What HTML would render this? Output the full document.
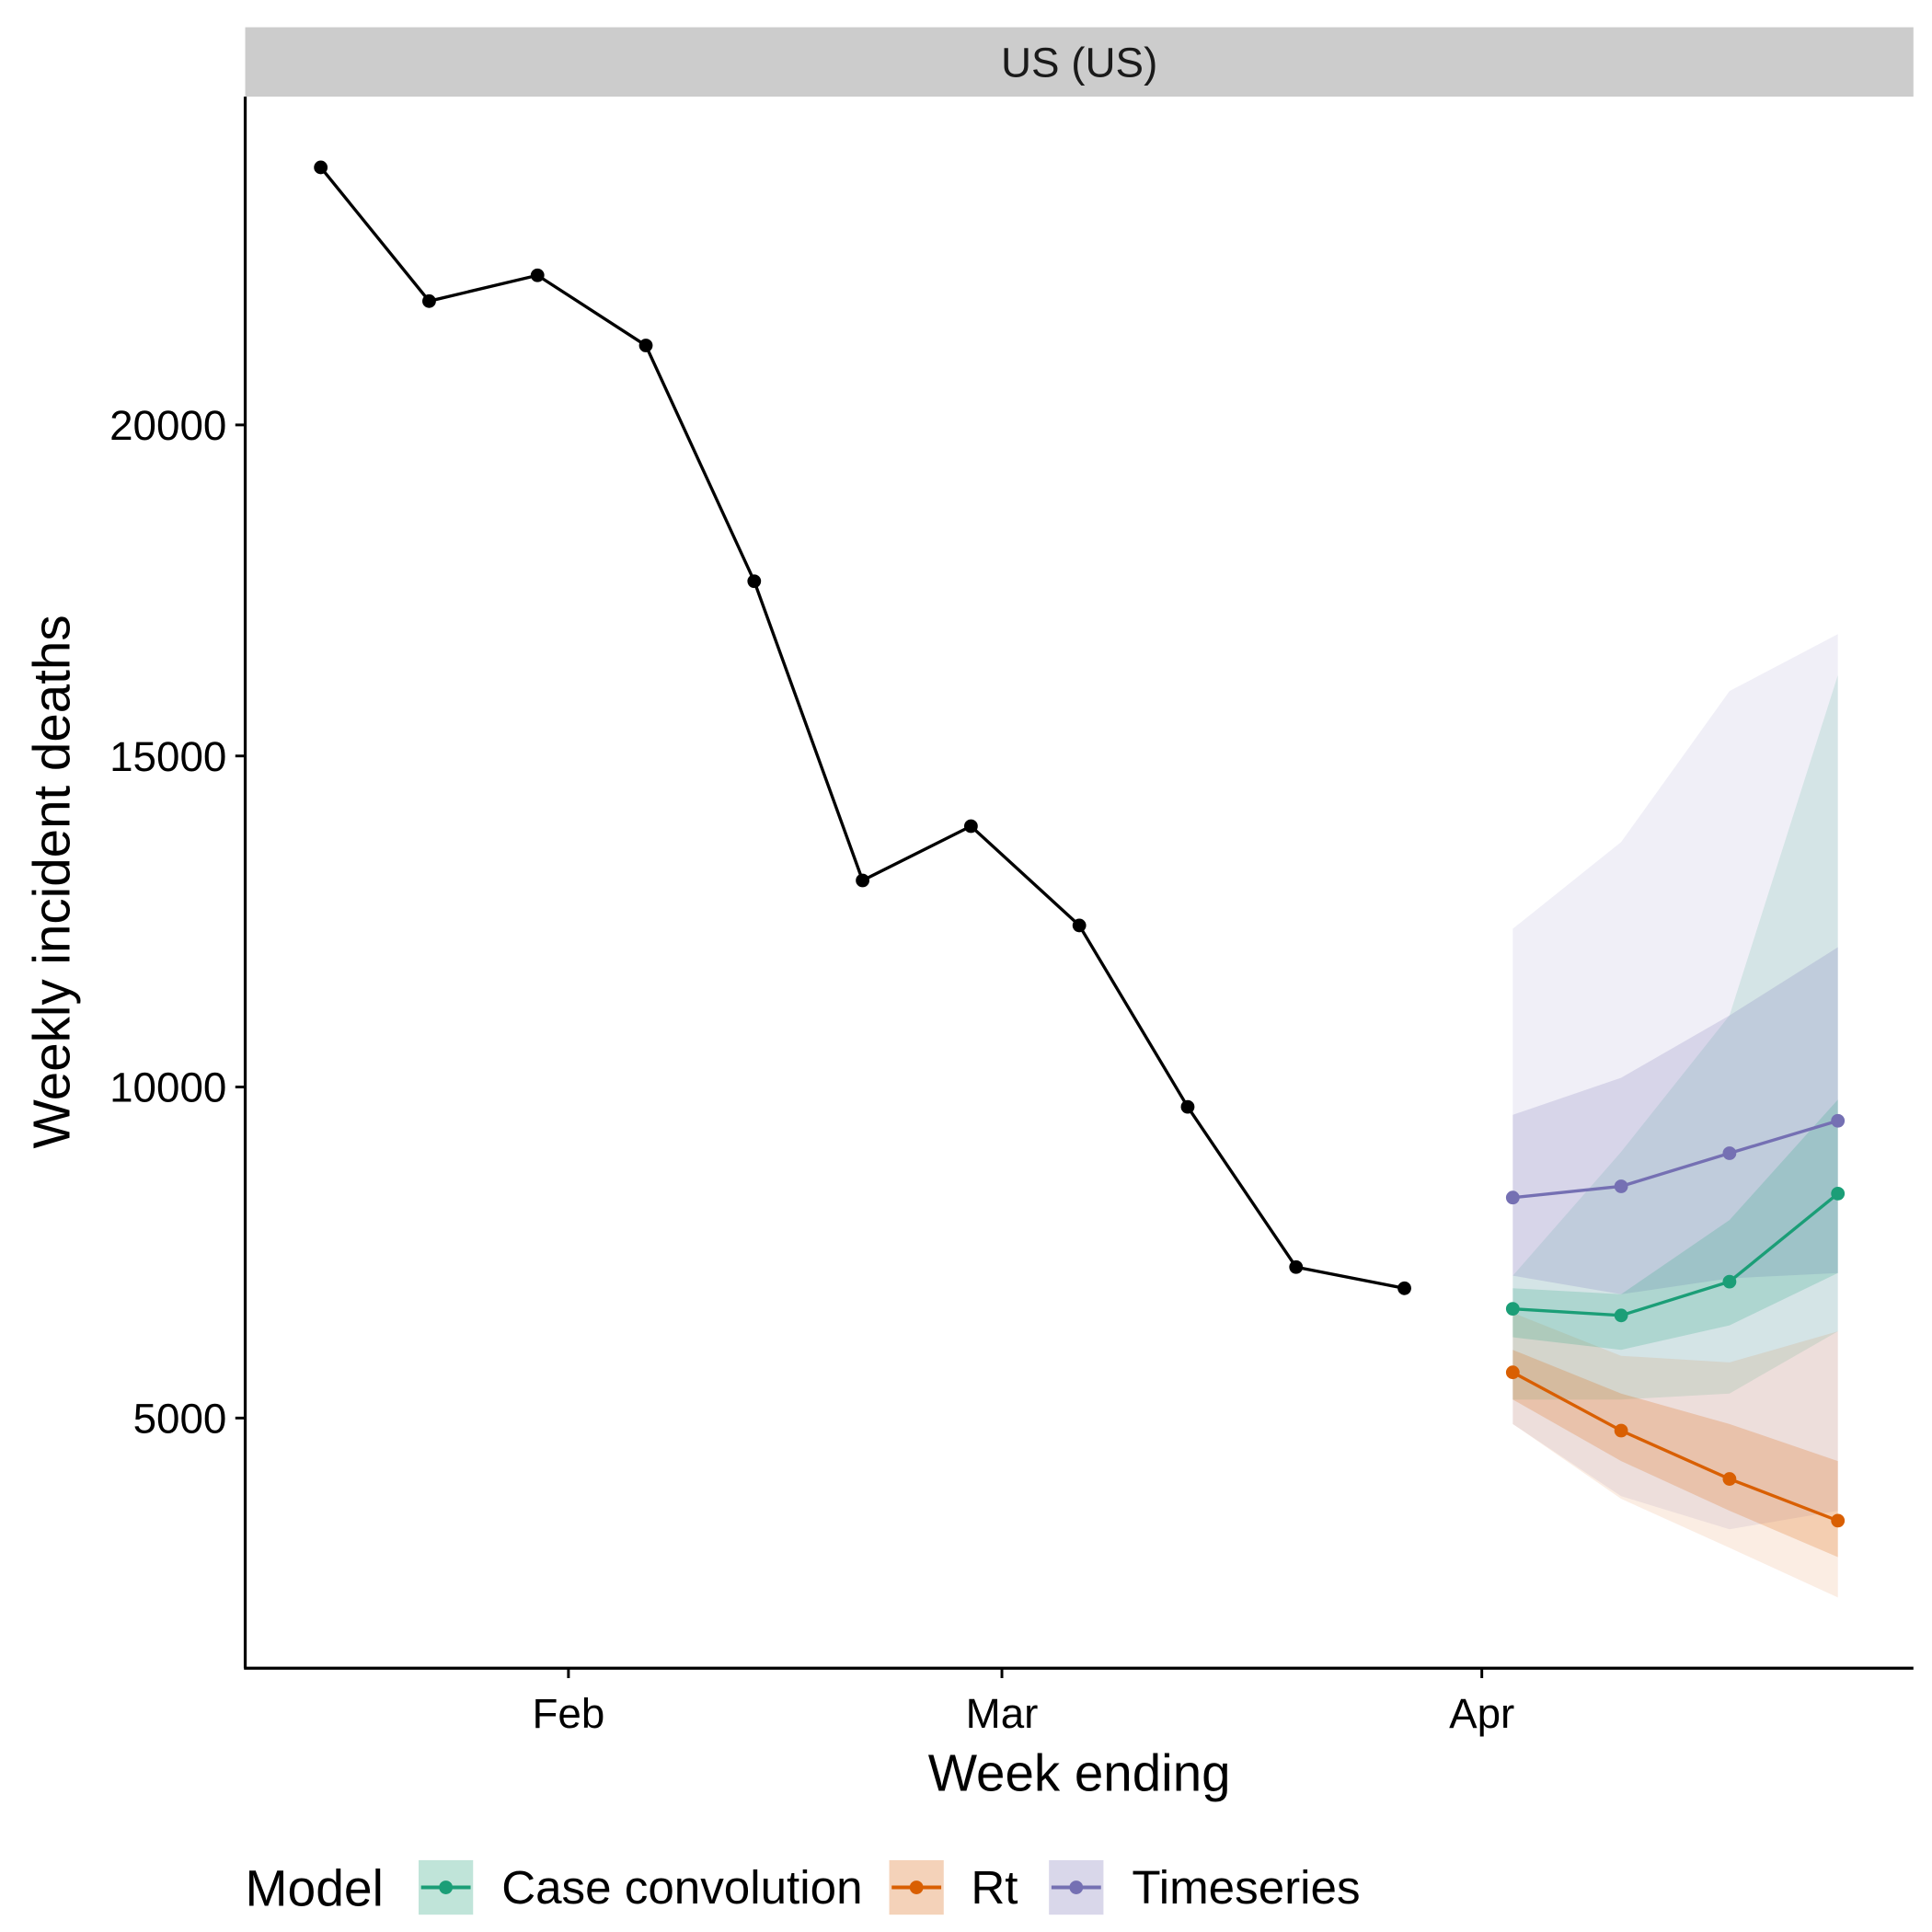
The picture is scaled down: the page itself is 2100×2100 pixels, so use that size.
<!DOCTYPE html>
<html><head><meta charset="utf-8">
<style>
html,body{margin:0;padding:0;background:#fff;}
svg{display:block;font-family:"Liberation Sans",Arial,sans-serif;}
</style></head>
<body>
<svg id="chart" width="2100" height="2100" viewBox="0 0 1560 1560" xmlns="http://www.w3.org/2000/svg">
<rect x="0" y="0" width="1560" height="1560" fill="#fff"/>
<rect x="198" y="22" width="1347" height="56" fill="#cccccc"/>
<text x="871.5" y="62" font-size="34" text-anchor="middle" fill="#1a1a1a">US (US)</text>
<g id="ribbons"></g>
<g id="lines"></g>
<line x1="198" y1="78" x2="198" y2="1347" stroke="#000" stroke-width="2.4"/>
<line x1="197" y1="1347" x2="1545" y2="1347" stroke="#000" stroke-width="2.4"/>
<g id="yticks"></g>
<g id="xticks"></g>
<text x="871.5" y="1446" font-size="42" text-anchor="middle">Week ending</text>
<text transform="translate(56,712) rotate(-90)" font-size="42" text-anchor="middle">Weekly incident deaths</text>
<g>
<text x="198" y="1539" font-size="41">Model</text>
<g>
<rect x="338" y="1502" width="44" height="44" fill="#1B9E77" fill-opacity="0.28"/>
<line x1="340" y1="1524" x2="380" y2="1524" stroke="#1B9E77" stroke-width="3"/>
<circle cx="360" cy="1524" r="5.5" fill="#1B9E77"/>
<text x="405" y="1537" font-size="38">Case convolution</text>
</g>
<g>
<rect x="718" y="1502" width="44" height="44" fill="#D95F02" fill-opacity="0.28"/>
<line x1="720" y1="1524" x2="760" y2="1524" stroke="#D95F02" stroke-width="3"/>
<circle cx="740" cy="1524" r="5.5" fill="#D95F02"/>
<text x="784" y="1537" font-size="38">Rt</text>
</g>
<g>
<rect x="847" y="1502" width="44" height="44" fill="#7570B3" fill-opacity="0.28"/>
<line x1="849" y1="1524" x2="889" y2="1524" stroke="#7570B3" stroke-width="3"/>
<circle cx="869" cy="1524" r="5.5" fill="#7570B3"/>
<text x="914" y="1537" font-size="38">Timeseries</text>
</g>
</g>
</svg>
<script>
// day offsets from Feb 1
const obsDays = [-16,-9,-2,5,12,19,26,33,40,47,54];
const obsValues = [23890,21870,22260,21200,17640,13120,13940,12440,9700,7280,6960];
const fcDays = [61,68,75,82];
const caseMedian = [6650,6550,7060,8390];
const caseInnerLo = [6220,6030,6400,7190];
const caseInnerHi = [6960,6870,7990,9810];
const caseOuterLo = [5280,5280,5370,6310];
const caseOuterHi = [7150,9020,11080,16220];
const rtMedian = [5690,4810,4080,3450];
const rtInnerLo = [5280,4350,3600,2900];
const rtInnerHi = [6030,5370,4910,4350];
const rtOuterLo = [4910,3780,3040,2290];
const rtOuterHi = [6590,5940,5840,6310];
const tsMedian = [8330,8500,9000,9490];
const tsInnerLo = [7150,6870,7110,7190];
const tsInnerHi = [9580,10140,11080,12110];
const tsOuterLo = [4910,3820,3320,3600];
const tsOuterHi = [12390,13700,15980,16840];
const yTicks = [5000,10000,15000,20000];
const xTickDays = [0,28,59];
const xTickLabels = ["Feb","Mar","Apr"];

const NS = "http://www.w3.org/2000/svg";
function xs(d){ return 459 + d*12.5; }
function ys(v){ return 1145 - (v-5000)*0.053459; }
function mk(tag, attrs, parent){
  const e = document.createElementNS(NS, tag);
  for (const k in attrs) e.setAttribute(k, attrs[k]);
  parent.appendChild(e);
  return e;
}
const rib = document.getElementById('ribbons');
const lin = document.getElementById('lines');

function band(lo, hi, color, op, name){
  let pts = fcDays.map((d,i)=>xs(d)+','+ys(hi[i]));
  pts = pts.concat(fcDays.map((d,i)=>xs(d)+','+ys(lo[i])).reverse());
  const p = mk('polygon', {points: pts.join(' '), fill: color, 'fill-opacity': op}, rib);
  
  
}
band(tsOuterLo, tsOuterHi, '#7570B3', 0.11, 'timeseries-outer-band');
band(caseOuterLo, caseOuterHi, '#1B9E77', 0.13, 'case-outer-band');
band(rtOuterLo, rtOuterHi, '#D95F02', 0.11, 'rt-outer-band');
band(tsInnerLo, tsInnerHi, '#7570B3', 0.2, 'timeseries-inner-band');
band(caseInnerLo, caseInnerHi, '#1B9E77', 0.2, 'case-inner-band');
band(rtInnerLo, rtInnerHi, '#D95F02', 0.22, 'rt-inner-band');

function series(days, vals, color, name, sw){
  const pl = mk('polyline', {points: days.map((d,i)=>xs(d)+','+ys(vals[i])).join(' '), fill:'none', stroke: color, 'stroke-width': sw}, lin);
  
  
  days.forEach((d,i)=>{
    const c = mk('circle', {cx: xs(d), cy: ys(vals[i]), r: 5.5, fill: color}, lin);
    
    
  });
}
series(obsDays, obsValues, '#000000', 'observed', 2.5);
series(fcDays, caseMedian, '#1B9E77', 'case-convolution', 2.5);
series(fcDays, rtMedian, '#D95F02', 'rt', 2.5);
series(fcDays, tsMedian, '#7570B3', 'timeseries', 2.5);

const yt = document.getElementById('yticks');
yTicks.forEach(v=>{
  const l = mk('line', {x1:190, x2:198, y1:ys(v), y2:ys(v), stroke:'#000', 'stroke-width':2.2}, yt);
  
  
  const t = mk('text', {x:183, y:ys(v)+12, 'font-size':34, 'text-anchor':'end', fill:'#000'}, yt);
  
  
  t.textContent = v;
});
const xt = document.getElementById('xticks');
xTickDays.forEach((d,i)=>{
  const l = mk('line', {x1:xs(d), x2:xs(d), y1:1347, y2:1355, stroke:'#000', 'stroke-width':2.2}, xt);
  
  
  const t = mk('text', {x:xs(d), y:1395, 'font-size':34, 'text-anchor':'middle', fill:'#000'}, xt);
  
  
  t.textContent = xTickLabels[i];
});
</script>
</body></html>
